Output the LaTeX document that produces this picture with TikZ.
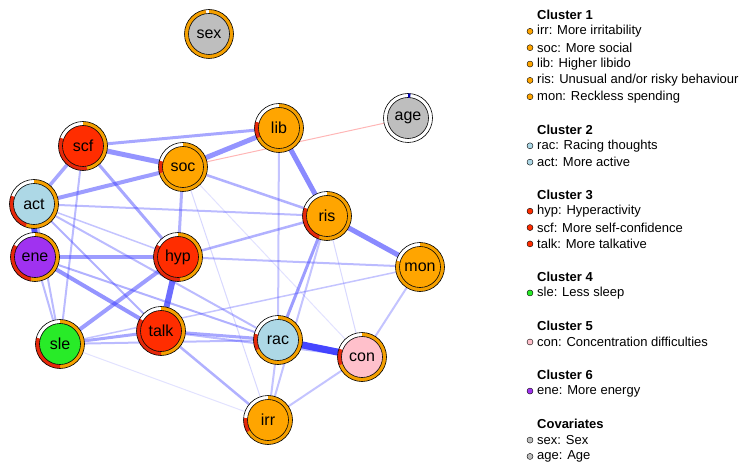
\documentclass[tikz,border=0pt]{standalone}
\usepackage{fontspec}
\setmainfont{Liberation Sans}
\usetikzlibrary{positioning}
\definecolor{nodeorange}{RGB}{255,165,0}
\definecolor{nodeblue}{RGB}{173,216,230}
\definecolor{nodered}{RGB}{255,45,0}
\definecolor{nodepurple}{RGB}{160,50,240}
\definecolor{nodegreen}{RGB}{40,235,40}
\definecolor{nodepink}{RGB}{255,192,203}
\definecolor{nodegrey}{RGB}{190,190,190}
\definecolor{pieorange}{RGB}{245,160,0}
\definecolor{piered}{RGB}{230,40,10}
\definecolor{edgeblue}{RGB}{60,60,255}
\definecolor{edgered}{RGB}{255,110,110}
\pgfdeclarelayer{edges}
\pgfsetlayers{edges,main}

\begin{document}
\begin{tikzpicture}[x=1pt,y=1pt,
		vnode/.style={circle,draw,line width=0.6pt,minimum size=41pt,inner sep=0pt,font=\fontsize{16}{16}\selectfont},
		bullet/.style={circle,draw,line width=0.4pt,minimum size=6pt,inner sep=0pt},
		legtext/.style={anchor=west,inner sep=0pt,font=\fontsize{13}{13}\selectfont},
		legtitle/.style={legtext,font=\fontsize{13}{13}\selectfont\bfseries}]
				\useasboundingbox (0,0) rectangle (747,-465);
				% nodes with pie rings
				\foreach \n/\x/\y/\c/\po/\pr in {sex/209/34/nodegrey/352/352,age/408/118/nodegrey/0/0,
					lib/279/128/nodeorange/245/285,scf/83/146/nodered/170/290,soc/183/167/nodeorange/255/285,
					act/34/204/nodeblue/200/290,ris/327/216/nodeorange/200/290,ene/35/257/nodepurple/190/300,
					hyp/178/257/nodered/175/300,mon/420/267/nodeorange/285/285,sle/60/344/nodegreen/180/285,
					talk/161/331/nodered/180/300,rac/278/340/nodeblue/245/285,con/362/357/nodepink/250/290,
					irr/268/420/nodeorange/240/275}{
					\begin{scope}[shift={(\x,-\y)}]
						\fill[white] (0,0) circle (24.5);
						\fill[pieorange] (90:24.5) arc[start angle=90,end angle={90-\po},radius=24.5]
							-- ({90-\po}:20.5) arc[start angle={90-\po},end angle=90,radius=20.5] -- cycle;
						\fill[piered] ({90-\po}:24.5) arc[start angle={90-\po},end angle={90-\pr},radius=24.5]
							-- ({90-\pr}:20.5) arc[start angle={90-\pr},end angle={90-\po},radius=20.5] -- cycle;
						\draw[line width=0.6pt] (0,0) circle (24.5);
					\end{scope}
					\node[vnode,fill=\c] (\n) at (\x,-\y) {\n};
				}
				% small mark on the age ring
				\fill[blue!70!black] ([shift={(90:24.5)}]age.center) arc[start angle=90,end angle=84,radius=24.5]
					-- ([shift={(84:20.5)}]age.center) arc[start angle=84,end angle=90,radius=20.5] -- cycle;
				% edges
				\begin{pgfonlayer}{edges}
					\foreach \a/\b/\w/\o in {rac/con/7/0.95,hyp/talk/6/0.75,act/ene/6/0.9,ris/mon/5/0.6,
						lib/ris/5/0.6,scf/soc/5/0.55,soc/lib/5/0.55,soc/act/4/0.5,scf/act/3.5/0.45,
						ene/talk/4/0.55,ene/hyp/4/0.5,sle/hyp/4/0.5,scf/lib/3/0.45,scf/hyp/3/0.45,
						sle/talk/3/0.45,talk/rac/3/0.45,ris/rac/3/0.5,hyp/ris/2.5/0.4,soc/hyp/3/0.4,
						act/ris/2/0.35,hyp/mon/2/0.35,soc/ris/2.5/0.4,lib/rac/2/0.3,talk/irr/2.5/0.4,
						rac/irr/2/0.3,con/irr/2/0.3,mon/con/2/0.3,talk/con/2/0.35,act/talk/2/0.4,
						act/hyp/1.5/0.3,scf/sle/2/0.35,act/sle/2/0.35,ene/sle/2/0.35,act/rac/2/0.35,
						ene/rac/2/0.4,sle/rac/2/0.35,sle/irr/1/0.15,soc/irr/1/0.2,soc/con/1/0.15,
						ris/irr/2/0.3,ris/con/1/0.2,mon/sle/1.5/0.3}{
						\draw[edgeblue,line width=\w pt,draw opacity=\o] (\a) -- (\b);
					}
					\draw[edgered,line width=1pt,draw opacity=0.5] (soc) -- (age);
				\end{pgfonlayer}
				% legend
				\foreach \k/\t in {0/Cluster 1,7/Cluster 2,11/Cluster 3,16/Cluster 4,19/Cluster 5,22/Cluster 6,25/Covariates}{
					\pgfmathsetmacro{\ypos}{-15-\k*16.35}
					\node[legtitle] (title\k) at (537,\ypos) {\t};
				}
				\foreach \k/\c/\t in {1/nodeorange/{irr: More irritability},2/nodeorange/{soc: More social},
					3/nodeorange/{lib: Higher libido},4/nodeorange/{ris: Unusual and/or risky behaviour},
					5/nodeorange/{mon: Reckless spending},8/nodeblue/{rac: Racing thoughts},9/nodeblue/{act: More active},
					12/nodered/{hyp: Hyperactivity},13/nodered/{scf: More self-confidence},14/nodered/{talk: More talkative},
					17/nodegreen/{sle: Less sleep},20/nodepink/{con: Concentration difficulties},
					23/nodepurple/{ene: More energy},26/nodegrey/{sex: Sex},27/nodegrey/{age: Age}}{
					\pgfmathsetmacro{\ypos}{-15-\k*16.35}
					\node[bullet,fill=\c] (dot\k) at (530,\ypos) {};
					\node[legtext] (item\k) at (537,\ypos) {\t};
				}
			\end{tikzpicture}
\end{document}
